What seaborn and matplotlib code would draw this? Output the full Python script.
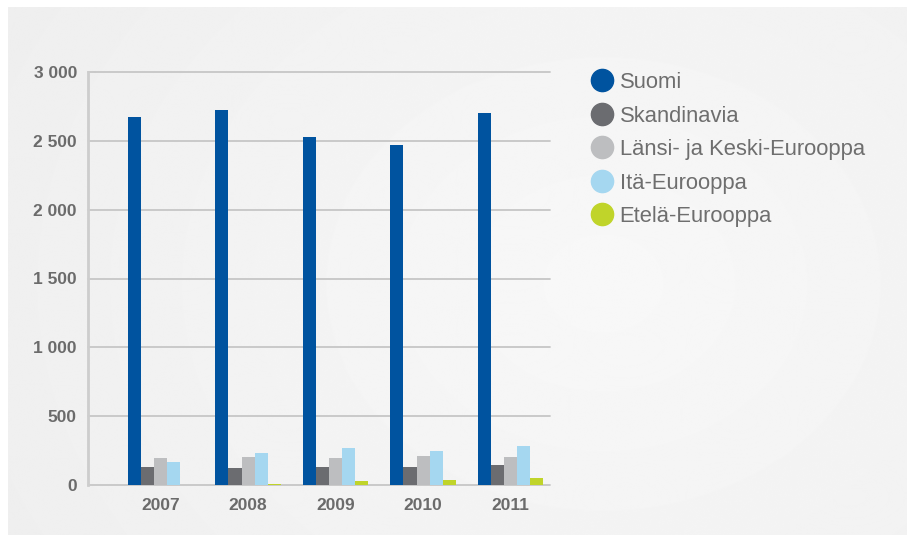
import numpy as np
import pandas as pd
import matplotlib
matplotlib.use('Agg')
import matplotlib.pyplot as plt
import seaborn as sns
from matplotlib.lines import Line2D
from matplotlib.ticker import FuncFormatter

# data
years = ['2007', '2008', '2009', '2010', '2011']
regions = ['Suomi', 'Skandinavia', 'Länsi- ja Keski-Eurooppa', 'Itä-Eurooppa', 'Etelä-Eurooppa']
suomi = [2675, 2722, 2527, 2473, 2705]
skandinavia = [128, 125, 133, 133, 145]
lansi = [195, 207, 195, 212, 200]
ita = [168, 236, 268, 250, 280]
etela = [3, 9, 26, 38, 50]
colors = ['#00539f', '#6b6c70', '#bdbec0', '#a5d7f0', '#c0d42a']
y_ticks = [0, 500, 1000, 1500, 2000, 2500, 3000]

series = [suomi, skandinavia, lansi, ita, etela]
rows = []
for region, vals in zip(regions, series):
    for year, v in zip(years, vals):
        rows.append({'year': year, 'region': region, 'value': v})
df = pd.DataFrame(rows)

sns.set_style('white')
plt.rcParams['font.family'] = ['Liberation Sans', 'DejaVu Sans']

W, H = 907, 535
fig = plt.figure(figsize=(W / 100, H / 100), dpi=100)
fig.patch.set_facecolor('white')

# soft grey panel with a light radial highlight
bg = fig.add_axes([0, 0, 1, 1], zorder=-1)
gy, gx = np.mgrid[0:H, 0:W]
d = np.sqrt(((gx - 600) / 560.0) ** 2 + ((gy - 280) / 460.0) ** 2)
shade = np.clip(0.972 - 0.03 * d, 0.925, 1.0)
bg.imshow(shade, cmap='gray', vmin=0, vmax=1, extent=(8, W, H, 7), aspect='auto')
bg.set_xlim(0, W)
bg.set_ylim(H, 0)
bg.axis('off')

ax = fig.add_axes([88 / W, 50 / H, 462 / W, 413 / H])
ax.patch.set_alpha(0)
sns.barplot(data=df, x='year', y='value', hue='region', hue_order=regions,
            palette=colors, width=0.75, saturation=1, linewidth=0,
            legend=False, ax=ax)

ax.set_xlim(-0.83, 4.45)
ax.set_ylim(0, 3000)
ax.set_yticks(y_ticks)
ax.yaxis.set_major_formatter(FuncFormatter(lambda v, p: f'{int(v):,}'.replace(',', ' ')))
ax.set_xlabel('')
ax.set_ylabel('')

ax.yaxis.grid(True, color='#c6c6c6', lw=1.3)
ax.set_axisbelow(True)
for gl in ax.get_ygridlines():
    gl.set_clip_on(False)
for s in ['top', 'right', 'bottom']:
    ax.spines[s].set_visible(False)
ax.spines['left'].set_color('#cdcdcd')
ax.spines['left'].set_linewidth(2)

ax.tick_params(axis='both', length=0, labelsize=12.5, labelcolor='#6b6b6b')
ax.tick_params(axis='y', pad=8)
ax.tick_params(axis='x', pad=9)
for lab in ax.get_xticklabels() + ax.get_yticklabels():
    lab.set_fontweight('bold')

handles = [Line2D([], [], marker='o', linestyle='none', markersize=16,
                  markerfacecolor=c, markeredgecolor=c) for c in colors]
fig.legend(handles, regions, loc='upper left', bbox_to_anchor=(591 / W, 1 - 72 / H),
           frameon=False, fontsize=15.8, labelcolor='#6e6e6e', handlelength=1.0,
           handletextpad=0.3, labelspacing=0.57, borderpad=0, borderaxespad=0)

fig.savefig('out.png', dpi=100)
